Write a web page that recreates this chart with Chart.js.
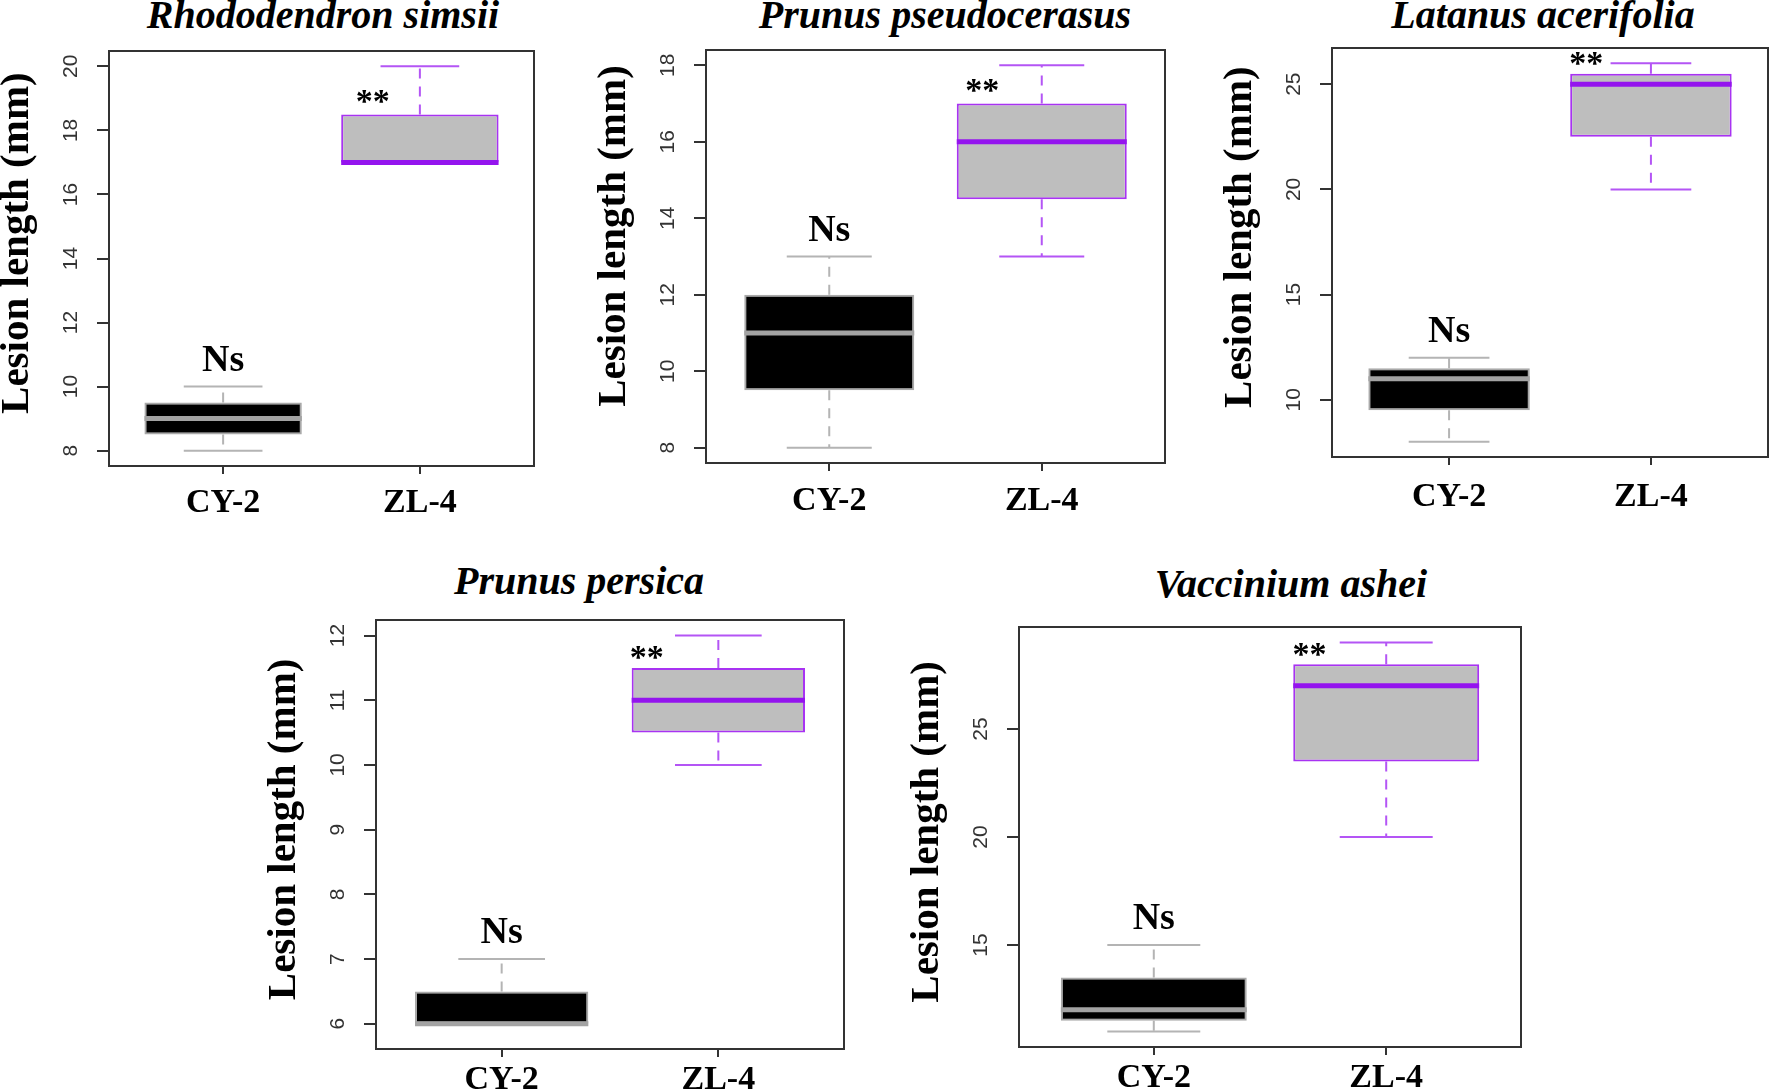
<!DOCTYPE html>
<html lang="en">
<head>
<meta charset="UTF-8">
<title>Lesion length of CY-2 and ZL-4 on five hosts</title>
<script src="https://cdn.jsdelivr.net/npm/chart.js@4"></script>
<style>
  html, body { margin: 0; padding: 0; background: #fff; overflow: hidden; }
  #page { position: relative; width: 1770px; height: 1089px; overflow: hidden; }
  #page canvas { position: absolute; }
  .species {
    position: absolute;
    font: italic bold 40px 'Liberation Serif', 'Times New Roman', serif;
    line-height: 40px;
    white-space: nowrap;
    transform: translateX(-50%);
    color: #000;
  }
</style>
</head>
<body>
<div id="page"></div>

<script>
// Lesion length (mm). Each pair is [CY-2, ZL-4].
const strains = ['CY-2', 'ZL-4'];
const species = ['Rhododendron simsii', 'Prunus pseudocerasus', 'Latanus acerifolia', 'Prunus persica', 'Vaccinium ashei'];

const whiskerLow  = [[8, 17],    [8, 13],    [8, 20],     [6, 10],    [11, 20]];
const boxLow      = [[8.5, 17],  [9.5, 14.5],[9.5, 22.5], [6, 10.5],  [11.5, 23.5]];
const medians     = [[9, 17],    [11, 16],   [11, 25],    [6, 11],    [12, 27]];
const boxHigh     = [[9.5, 18.5],[12, 17],   [11.5, 25.5],[6.5, 11.5],[13.5, 28]];
const whiskerHigh = [[10, 20],   [13, 18],   [12, 26],    [7, 12],    [15, 29]];

const yTicks = [
  [8, 10, 12, 14, 16, 18, 20],
  [8, 10, 12, 14, 16, 18],
  [10, 15, 20, 25],
  [6, 7, 8, 9, 10, 11, 12],
  [15, 20, 25]
];
// y axis limits of each panel
const yLimits = [[7.52, 20.48], [7.6, 18.4], [7.28, 26.72], [5.61, 12.24], [10.28, 29.72]];

const yTitle = 'Lesion length (mm)';
const notes = ['Ns', '**'];
// where the "**" sits: x offset from ZL-4 (in category units) and height (mm)
const starDx = [-0.24, -0.28, -0.32, -0.33, -0.33];
const starY = [19.07, 17.48, 26.24, 11.75, 28.7];

// plot frame of each panel on the page (px), title anchor, gap under x ticks,
// and how far the y title sits above the middle (in spaces)
const panels = [
  { L: 109,  T: 51,  R: 534,  B: 466,  tx: 323,  ty: 28,  gap: 9,  lift: 3 },
  { L: 706,  T: 50,  R: 1165, B: 463,  tx: 945,  ty: 28,  gap: 10, lift: 4 },
  { L: 1332, T: 48,  R: 1768, B: 457,  tx: 1543, ty: 28,  gap: 12, lift: 3 },
  { L: 376,  T: 620, R: 844,  B: 1049, tx: 579,  ty: 594, gap: 3,  lift: 1 },
  { L: 1019, T: 627, R: 1521, B: 1047, tx: 1291, ty: 597, gap: 3,  lift: 1 }
];

const looks = [
  { fill: '#000000', edge: '#a9a9a9', median: '#a3a3a3', whisker: '#b4b4b4' },
  { fill: '#bebebe', edge: '#a833f2', median: '#9414ee', whisker: '#b455f5' }
];

const Y_AXIS_W = 112, X_AXIS_H = 60, PAD = 10;

// whiskers, medians, frame and significance marks
const boxExtras = {
  id: 'boxExtras',
  beforeDatasetsDraw(chart, args, opts) {
    const k = opts.panel, ctx = chart.ctx;
    const xs = chart.scales.x, ys = chart.scales.y;
    const u = xs.getPixelForValue(2) - xs.getPixelForValue(1);
    ctx.save();
    strains.forEach((s, i) => {
      const x = xs.getPixelForValue(i + 1);
      ctx.strokeStyle = looks[i].whisker;
      ctx.lineWidth = 2;
      ctx.setLineDash([10, 8]);
      ctx.beginPath();
      ctx.moveTo(x, ys.getPixelForValue(boxHigh[k][i]));
      ctx.lineTo(x, ys.getPixelForValue(whiskerHigh[k][i]));
      ctx.moveTo(x, ys.getPixelForValue(boxLow[k][i]));
      ctx.lineTo(x, ys.getPixelForValue(whiskerLow[k][i]));
      ctx.stroke();
      ctx.setLineDash([]);
      ctx.beginPath();
      [whiskerLow[k][i], whiskerHigh[k][i]].forEach(v => {
        const y = ys.getPixelForValue(v);
        ctx.moveTo(x - 0.2 * u, y);
        ctx.lineTo(x + 0.2 * u, y);
      });
      ctx.stroke();
    });
    ctx.restore();
  },
  afterDatasetsDraw(chart, args, opts) {
    const k = opts.panel, ctx = chart.ctx;
    const xs = chart.scales.x, ys = chart.scales.y;
    const area = chart.chartArea;
    const u = xs.getPixelForValue(2) - xs.getPixelForValue(1);
    ctx.save();
    strains.forEach((s, i) => {
      const x = xs.getPixelForValue(i + 1);
      const y = ys.getPixelForValue(medians[k][i]);
      ctx.strokeStyle = looks[i].median;
      ctx.lineWidth = 5;
      ctx.beginPath();
      ctx.moveTo(x - 0.4 * u, y);
      ctx.lineTo(x + 0.4 * u, y);
      ctx.stroke();
    });

    ctx.strokeStyle = '#333';
    ctx.lineWidth = 2;
    ctx.strokeRect(area.left, area.top, area.right - area.left, area.bottom - area.top);

    ctx.fillStyle = '#000';
    ctx.textAlign = 'center';
    ctx.textBaseline = 'alphabetic';
    ctx.font = 'bold 38px "Liberation Serif"';
    ctx.fillText(notes[0], xs.getPixelForValue(1), ys.getPixelForValue(whiskerHigh[k][0]) - 16);
    ctx.font = 'bold 34px "Liberation Serif"';
    ctx.fillText(notes[1], xs.getPixelForValue(2 + starDx[k]), ys.getPixelForValue(starY[k]) + 16);
    ctx.restore();
  }
};

const page = document.getElementById('page');

panels.forEach((p, k) => {
  const title = document.createElement('div');
  title.className = 'species';
  title.textContent = species[k];
  title.style.left = p.tx + 'px';
  title.style.top = Math.round(p.ty - 33.5) + 'px';
  page.appendChild(title);

  const canvas = document.createElement('canvas');
  canvas.width = Y_AXIS_W + (p.R - p.L) + PAD;
  canvas.height = PAD + (p.B - p.T) + X_AXIS_H;
  canvas.style.left = (p.L - Y_AXIS_W) + 'px';
  canvas.style.top = (p.T - PAD) + 'px';
  page.appendChild(canvas);

  const n = strains.length;

  new Chart(canvas, {
    type: 'bar',
    data: {
      datasets: [{
        data: strains.map((s, i) => ({ x: i + 1, y: [boxLow[k][i], boxHigh[k][i]] })),
        backgroundColor: looks.map(l => l.fill),
        borderColor: looks.map(l => l.edge),
        borderWidth: 2,
        borderSkipped: false,
        barPercentage: 0.8,
        categoryPercentage: 1
      }]
    },
    options: {
      responsive: false,
      animation: false,
      events: [],
      layout: { padding: { left: 0, top: PAD, right: PAD, bottom: 0 } },
      plugins: {
        legend: { display: false },
        tooltip: { enabled: false },
        boxExtras: { panel: k }
      },
      scales: {
        x: {
          type: 'linear',
          min: 0.5 - 0.04 * n,
          max: n + 0.5 + 0.04 * n,
          offset: false,
          afterBuildTicks: s => { s.ticks = strains.map((_, i) => ({ value: i + 1 })); },
          afterFit: s => { s.height = X_AXIS_H; s.paddingLeft = 0; s.paddingRight = 0; },
          ticks: {
            callback: (v, i) => strains[i],
            autoSkip: false,
            maxRotation: 0,
            padding: p.gap,
            color: '#000',
            font: { family: 'Liberation Serif', weight: 'bold', size: 34 }
          },
          grid: { display: true, drawOnChartArea: false, drawTicks: true, tickLength: 8, color: '#333', lineWidth: 2, offset: false },
          border: { display: false }
        },
        y: {
          min: yLimits[k][0],
          max: yLimits[k][1],
          afterBuildTicks: s => { s.ticks = yTicks[k].map(v => ({ value: v })); },
          afterFit: s => { s.width = Y_AXIS_W; s.paddingTop = 0; s.paddingBottom = 0; },
          ticks: {
            minRotation: 90,
            maxRotation: 90,
            crossAlign: 'center',
            autoSkip: false,
            padding: 14,
            color: '#333',
            font: { family: 'Liberation Sans', size: 21 }
          },
          grid: { display: true, drawOnChartArea: false, drawTicks: true, tickLength: 12, color: '#333', lineWidth: 2 },
          border: { display: false },
          title: {
            display: true,
            // leading spaces push the rotated title up a little, as in the figure
            text: ' '.repeat(p.lift) + yTitle,
            color: '#000',
            padding: 0,
            font: { family: 'Liberation Serif', weight: 'bold', size: 41, lineHeight: 1 }
          }
        }
      }
    },
    plugins: [boxExtras]
  });
});
</script>
</body>
</html>
